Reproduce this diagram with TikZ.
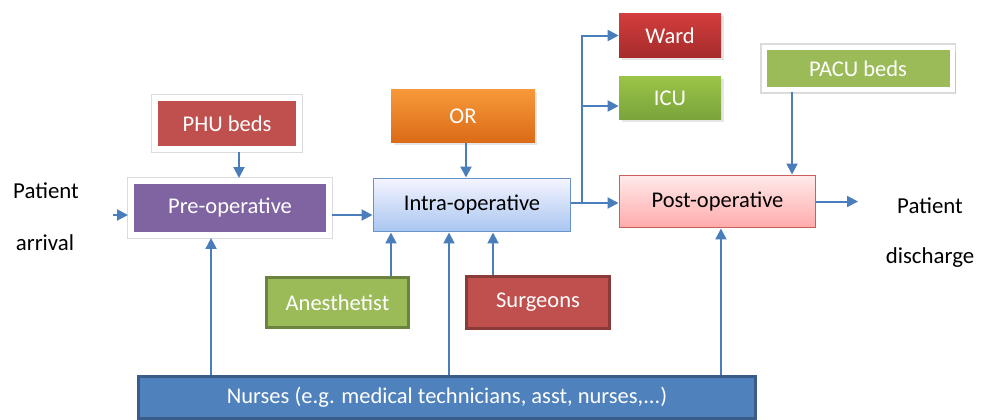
\documentclass[tikz,border=0pt]{standalone}
\usepackage{fontspec}
\setmainfont{Carlito}
\usetikzlibrary{arrows.meta,shadows}

\definecolor{linkblue}{HTML}{4A7EBB}
\definecolor{bedred}{HTML}{C0504D}
\definecolor{bedgreen}{HTML}{9BBB59}
\definecolor{prepurple}{HTML}{8064A2}
\definecolor{nurseblue}{HTML}{4F81BD}

\begin{document}
\begin{tikzpicture}[x=0.02cm, y=-0.02cm,
    flow/.style={-{Triangle[length=0.22cm, width=0.22cm]}, draw=linkblue, line width=0.04cm},
    block/.style={rectangle, inner sep=0pt, align=center, font=\fontsize{12.8}{15}\selectfont},
    framed/.style={block, draw=white, line width=0.12cm, text=white,
        preaction={draw=black!14, line width=0.16cm},
        drop shadow={shadow xshift=0.07cm, shadow yshift=-0.07cm, opacity=0.22}},
    shaded/.style={block, text=white,
        drop shadow={shadow xshift=0.05cm, shadow yshift=-0.05cm, opacity=0.2}},
    staff/.style={block, text=white, line width=0.06cm},
    plain/.style={font=\fontsize{13}{15}\selectfont, inner sep=1pt}]

    \useasboundingbox (0,0) rectangle (989,419);

    % Patient flow stages
    \node[framed, fill=prepurple, minimum width=3.96cm, minimum height=1.08cm] (preop) at (230,208) {Pre-operative};
    \node[block, draw=nurseblue!85, line width=0.02cm, top color=blue!4, bottom color={rgb,255:red,168;green,197;blue,240},
        minimum width=3.96cm, minimum height=1.08cm] (intraop) at (472,205) {Intra-operative};
    \node[block, draw=bedred!90, line width=0.02cm, top color=red!8, bottom color={rgb,255:red,255;green,170;blue,170},
        minimum width=3.94cm, minimum height=1.06cm] (postop) at (717.5,201.5) {Post-operative};

    % Resources (top)
    \node[framed, fill=bedred, minimum width=2.88cm, minimum height=1.02cm] (phu) at (227,123.5) {PHU beds};
    \node[shaded, top color={rgb,255:red,248;green,153;blue,58}, bottom color={rgb,255:red,218;green,106;blue,23},
        minimum width=2.88cm, minimum height=1.08cm] (orroom) at (463,116) {OR};
    \node[shaded, top color={rgb,255:red,211;green,61;blue,61}, bottom color={rgb,255:red,166;green,43;blue,43},
        minimum width=2.04cm, minimum height=0.90cm] (ward) at (670,35.5) {Ward};
    \node[shaded, top color={rgb,255:red,155;green,196;blue,72}, bottom color={rgb,255:red,121;green,164;blue,58},
        minimum width=2.04cm, minimum height=0.88cm] (icu) at (670,98) {ICU};
    \node[framed, fill=bedgreen, line width=0.10cm, preaction={draw=black!14, line width=0.14cm},
        minimum width=3.76cm, minimum height=0.86cm] (pacu) at (858,68.5) {PACU beds};

    % Staff (bottom)
    \node[staff, fill=bedgreen, draw=bedgreen!70!black, minimum width=2.84cm, minimum height=1.00cm] (anest) at (337.5,302.5) {Anesthetist};
    \node[staff, fill=bedred, draw=bedred!72!black, minimum width=2.86cm, minimum height=1.04cm] (surg) at (538,302.5) {Surgeons};
    \node[staff, fill=nurseblue, draw=nurseblue!72!black, minimum width=12.34cm, minimum height=0.84cm] (nurses) at (447,397) {Nurses (e.g. medical technicians, asst, nurses,...)};

    % Arrival and discharge labels
    \node[plain] (arrtop) at (46,191) {Patient};
    \node[plain] (arrbot) at (45,243) {arrival};
    \node[plain] (distop) at (930,206) {Patient};
    \node[plain] (disbot) at (930,258) {discharge};

    \coordinate (arrin) at (113,215);
    \coordinate (split) at (582,203);
    \coordinate (disout) at (858,201.5);

    % Main flow
    \draw[flow] (arrin) -- (arrin -| preop.west);
    \draw[flow] (preop.east |- arrin) -- (intraop.west |- arrin);
    \draw[flow] (intraop.east |- split) -- (split) -- (postop.west |- split);
    \draw[flow] (split) |- (ward.west);
    \draw[flow] (split) |- ([yshift=-0.16cm]icu.west);
    \draw[flow] (postop.east) -- (disout);

    % Resources into stages
    \draw[flow] ([xshift=0.24cm]phu.south) -- ([xshift=0.24cm]phu.south |- preop.north);
    \draw[flow] ([xshift=0.06cm]orroom.south) -- ([xshift=0.06cm]orroom.south |- intraop.north);
    \draw[flow] ([xshift=-1.32cm]pacu.south) -- ([xshift=-1.32cm]pacu.south |- postop.north);
    \draw[flow] ([xshift=1.07cm]anest.north) -- ([xshift=1.07cm]anest.north |- intraop.south);
    \draw[flow] ([xshift=-0.9cm]surg.north) -- ([xshift=-0.9cm]surg.north |- intraop.south);

    % Nurses to every stage
    \foreach \dx/\stage in {-4.72/preop, 0.04/intraop, 5.48/postop} {
        \draw[flow] ([xshift=\dx cm]nurses.north) -- ([xshift=\dx cm]nurses.north |- \stage.south);
    }

\end{tikzpicture}
\end{document}
